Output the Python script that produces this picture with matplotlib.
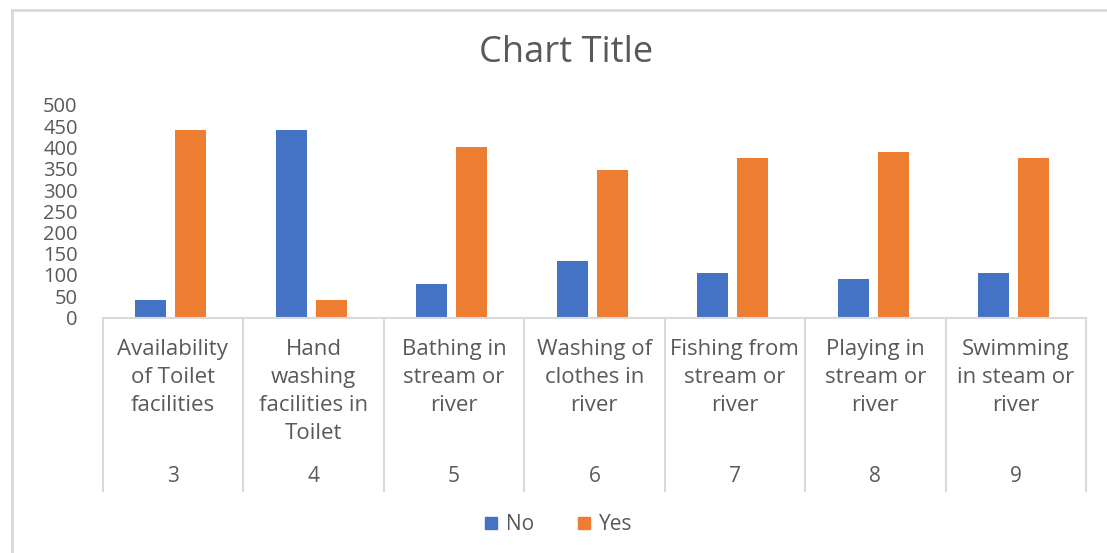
import matplotlib
matplotlib.use("Agg")
import matplotlib.pyplot as plt
import matplotlib.transforms as mtrans
from matplotlib.lines import Line2D
from matplotlib.patches import Patch

plt.rcParams['font.family'] = ['Open Sans', 'DejaVu Sans']

# --- data ---
activities = ["Availability\nof Toilet\nfacilities",
              "Hand\nwashing\nfacilities in\nToilet",
              "Bathing in\nstream or\nriver",
              "Washing of\nclothes in\nriver",
              "Fishing from\nstream or\nriver",
              "Playing in\nstream or\nriver",
              "Swimming\nin steam or\nriver"]
item_no = ["3", "4", "5", "6", "7", "8", "9"]
no_vals = [41, 440, 79, 134, 105, 91, 105]
yes_vals = [440, 41, 400, 346, 375, 389, 375]
y_ticks = list(range(0, 501, 50))

BLUE = '#4472C4'
ORANGE = '#ED7D31'
TEXT = '#595959'
LINE = '#D9D9D9'

W, H = 1107, 553
fig = plt.figure(figsize=(W / 100, H / 100), dpi=100)

# plot area in pixel terms
x0, x1 = 102.7, 1086
y_zero, y_top = 317.5, 105
ax = fig.add_axes([x0 / W, (H - y_zero) / H, (x1 - x0) / W, (y_zero - y_top) / H])

xs = list(range(len(activities)))
bw = 0.22
ax.bar([x - 0.158 for x in xs], no_vals, width=bw, color=BLUE, label='No')
ax.bar([x + 0.128 for x in xs], yes_vals, width=bw, color=ORANGE, label='Yes')

ax.set_xlim(-0.5, len(activities) - 0.5)
ax.set_ylim(0, 500)
ax.set_yticks(y_ticks)
ax.tick_params(axis='y', length=0, pad=18, labelsize=14.5, labelcolor=TEXT)
ax.set_xticks([])
for s in ['top', 'right', 'left']:
    ax.spines[s].set_visible(False)
ax.spines['bottom'].set_color(LINE)
ax.spines['bottom'].set_linewidth(1.5)

# two-level category axis below the plot
tr = mtrans.blended_transform_factory(ax.transData, fig.transFigure)
sep_bottom = (H - 490.7) / H
sep_top = (H - y_zero) / H
for i in range(len(activities) + 1):
    ax.add_line(Line2D([i - 0.5, i - 0.5], [sep_bottom, sep_top], transform=tr,
                       color=LINE, lw=1.5, clip_on=False))
for x, lab, num in zip(xs, activities, item_no):
    ax.text(x, (H - 339) / H, lab, transform=tr, ha='center', va='top',
            fontsize=16, color=TEXT, linespacing=1.43, clip_on=False)
    ax.text(x, (H - 477) / H, num, transform=tr, ha='center', va='center',
            fontsize=15, color=TEXT, clip_on=False)

fig.text(566 / W, (H - 53) / H, "Chart Title", ha='center', va='center',
         fontsize=26, color=TEXT)

handles = [Patch(color=BLUE, label='No'), Patch(color=ORANGE, label='Yes')]
fig.legend(handles=handles, loc='center', bbox_to_anchor=(559 / W, (H - 525) / H),
           ncol=2, frameon=False, fontsize=15, labelcolor=TEXT,
           handlelength=0.55, handleheight=0.55, handletextpad=0.45, columnspacing=2.1)

# chart area border (top and left edges)
fig.add_artist(Line2D([12 / W, 1], [(H - 10) / H, (H - 10) / H], transform=fig.transFigure,
                      color=LINE, lw=2))
fig.add_artist(Line2D([12 / W, 12 / W], [0, (H - 10) / H], transform=fig.transFigure,
                      color=LINE, lw=2))

fig.savefig('out.png', dpi=100)
